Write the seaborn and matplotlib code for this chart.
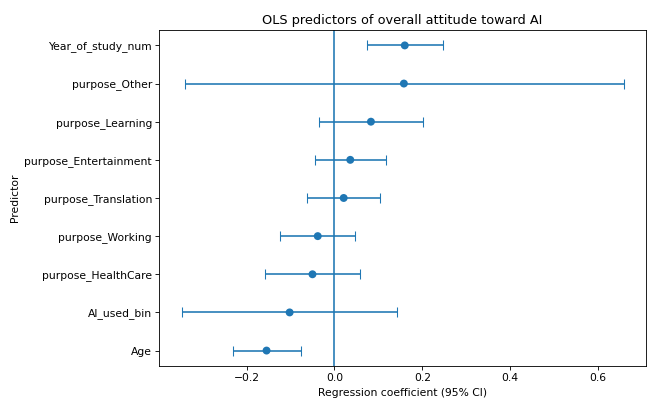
import numpy as np
import pandas as pd
import matplotlib
matplotlib.use("Agg")
import matplotlib.pyplot as plt
import seaborn as sns

# OLS coefficients with 95% CI, sorted ascending (bottom -> top)
predictors = ["Age", "AI_used_bin", "purpose_HealthCare", "purpose_Working",
              "purpose_Translation", "purpose_Entertainment", "purpose_Learning",
              "purpose_Other", "Year_of_study_num"]
coef = [-0.1545, -0.102, -0.050, -0.038, 0.021, 0.036, 0.083, 0.158, 0.160]
ci_low = [-0.231, -0.348, -0.158, -0.123, -0.063, -0.044, -0.036, -0.341, 0.074]
ci_high = [-0.077, 0.1425, 0.059, 0.046, 0.1045, 0.117, 0.202, 0.658, 0.246]

df = pd.DataFrame({"predictor": predictors, "coef": coef,
                   "lo": ci_low, "hi": ci_high})
df["pos"] = np.arange(len(df))

DPI = 77
fig, ax = plt.subplots(figsize=(648 / DPI, 402 / DPI), dpi=DPI)
fig.subplots_adjust(left=0.246, right=0.9965, top=0.925, bottom=0.09)

ax.errorbar(df["coef"], df["pos"],
            xerr=[df["coef"] - df["lo"], df["hi"] - df["coef"]],
            fmt="none", ecolor="C0", elinewidth=1.5, capsize=5)
sns.scatterplot(data=df, x="coef", y="pos", ax=ax, color="C0",
                s=55, edgecolor="none", zorder=3)
ax.axvline(0, color="C0", linewidth=1.5)

ax.set_yticks(df["pos"])
ax.set_yticklabels(df["predictor"])
ax.set_xlabel("Regression coefficient (95% CI)")
ax.set_ylabel("Predictor")
ax.set_title("OLS predictors of overall attitude toward AI")

fig.savefig("out.png", dpi=DPI)
